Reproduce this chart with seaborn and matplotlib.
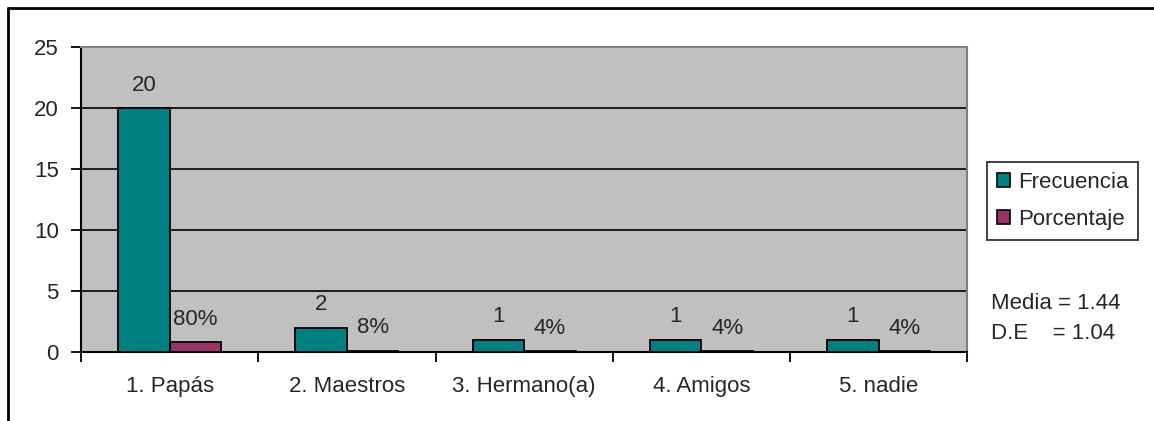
import pandas as pd
import matplotlib.pyplot as plt
import seaborn as sns
from matplotlib.lines import Line2D
from matplotlib.patches import Patch

categorias = ['1. Papás', '2. Maestros', '3. Hermano(a)', '4. Amigos', '5. nadie']
frecuencia = [20, 2, 1, 1, 1]
porcentaje = [0.8, 0.08, 0.04, 0.04, 0.04]
etiquetas_pct = ['80%', '8%', '4%', '4%', '4%']

df = pd.DataFrame({
    'categoria': categorias * 2,
    'valor': frecuencia + porcentaje,
    'serie': ['Frecuencia'] * 5 + ['Porcentaje'] * 5,
})

sns.set_style('white')
plt.rcParams['font.family'] = ['Liberation Sans', 'DejaVu Sans']
fs = 16

fig = plt.figure(figsize=(11.54, 4.21), dpi=100)
ax = fig.add_axes([0.0702, 0.164, 0.768, 0.724])
ax.set_facecolor('#C0C0C0')

colores = {'Frecuencia': '#008080', 'Porcentaje': '#993366'}
sns.barplot(data=df, x='categoria', y='valor', hue='serie', palette=colores,
            saturation=1, width=0.58, gap=0, edgecolor='black', linewidth=1.3,
            legend=False, ax=ax, zorder=3)

# etiquetas sobre las barras
ax.bar_label(ax.containers[0], labels=[str(v) for v in frecuencia],
             padding=9, fontsize=fs)
ax.bar_label(ax.containers[1], labels=etiquetas_pct, padding=9, fontsize=fs)

ax.set_xlim(-0.5, 4.5)
ax.set_ylim(0, 25)
ax.set_yticks(range(0, 26, 5))
ax.yaxis.grid(True, color='black', linewidth=1.2, zorder=0)
ax.set_axisbelow(True)
ax.set_xlabel('')
ax.set_ylabel('')

ax.set_xticks(range(5))
ax.set_xticks([i - 0.5 for i in range(6)], minor=True)
ax.tick_params(axis='x', which='major', length=0, pad=17, labelsize=fs)
ax.tick_params(axis='x', which='minor', length=7, width=1.3, color='black',
               direction='out', bottom=True)
ax.tick_params(axis='y', length=7, width=1.3, color='black', direction='out',
               left=True, pad=9, labelsize=fs)

for lado in ['left', 'bottom']:
    ax.spines[lado].set_color('black')
    ax.spines[lado].set_linewidth(1.5)
for lado in ['top', 'right']:
    ax.spines[lado].set_color('#808080')
    ax.spines[lado].set_linewidth(1.5)

handles = [Patch(facecolor=colores[s], edgecolor='black', linewidth=1.2)
           for s in ['Frecuencia', 'Porcentaje']]
fig.legend(handles, ['Frecuencia', 'Porcentaje'], loc='upper left',
           bbox_to_anchor=(0.855, 0.615), fontsize=fs, frameon=True,
           fancybox=False, edgecolor='black', handlelength=0.6,
           handleheight=0.6, handletextpad=0.35, borderpad=0.45,
           labelspacing=0.7, borderaxespad=0)
fig.legends[0].get_frame().set_linewidth(1.3)

fig.text(0.859, 0.28, 'Media = 1.44', fontsize=fs, va='center')
fig.text(0.859, 0.209, 'D.E    = 1.04', fontsize=fs, va='center')

# borde exterior del grafico
fig.add_artist(Line2D([0.007, 1.0], [0.981, 0.981], color='black', linewidth=2,
                      transform=fig.transFigure))
fig.add_artist(Line2D([0.007, 0.007], [0.0, 0.981], color='black', linewidth=2,
                      transform=fig.transFigure))

fig.savefig('out.png', dpi=100)
